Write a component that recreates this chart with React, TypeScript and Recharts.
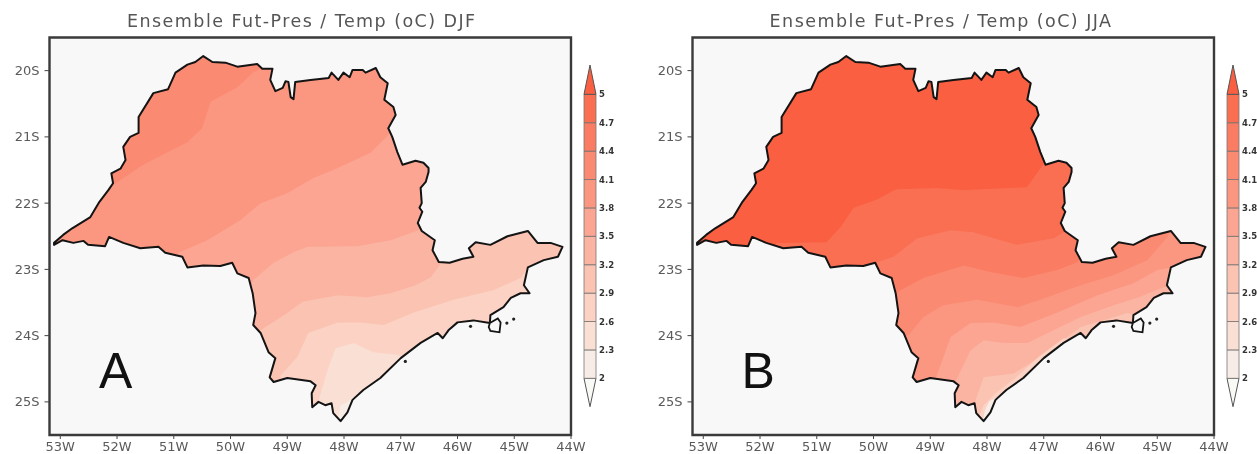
import React from 'react';
import { ScatterChart, Scatter, XAxis, YAxis, ReferenceArea, ReferenceLine } from 'recharts';

type Pair = [number, number];

const LON_TICKS = [-53, -52, -51, -50, -49, -48, -47, -46, -45, -44];
const LAT_TICKS = [-25, -24, -23, -22, -21, -20];
const LEVELS = [2, 2.3, 2.6, 2.9, 3.2, 3.5, 3.8, 4.1, 4.4, 4.7, 5];

// colour for <2, 2-2.3, ... 4.7-5, >5
const PALETTE = ['#f9f9f5', '#f8ede6', '#fadfd4', '#fbd2c3', '#fbc3b2', '#fbb4a2', '#fba592', '#fb9781', '#fb8a73', '#fa7c62', '#fa6e52', '#f95f40'];

const NE: Pair = [-44, -19.5];
const SE: Pair = [-44, -25.5];
const SW: Pair = [-53.19, -25.5];

const STATE_OUTLINE: Pair[] = [
  [-53.11, -22.6], [-52.95, -22.48], [-52.79, -22.38], [-52.47, -22.21], [-52.31, -21.98], [-52.15, -21.8], [-52.07, -21.7],
  [-52.1, -21.55], [-51.94, -21.48], [-51.85, -21.35], [-51.89, -21.15], [-51.77, -21.0], [-51.62, -20.94], [-51.62, -20.7],
  [-51.36, -20.34], [-51.1, -20.28], [-50.97, -20.03], [-50.76, -19.91], [-50.62, -19.87], [-50.48, -19.78], [-50.32, -19.87],
  [-50.09, -19.88], [-49.88, -19.94], [-49.53, -19.9], [-49.44, -19.97], [-49.26, -19.97], [-49.3, -20.14], [-49.21, -20.31],
  [-49.08, -20.26], [-49.03, -20.16], [-48.98, -20.17], [-48.94, -20.4], [-48.89, -20.43], [-48.86, -20.17], [-48.59, -20.14],
  [-48.27, -20.11], [-48.22, -20.03], [-48.1, -20.14], [-48.01, -20.03], [-47.9, -20.1], [-47.85, -19.99], [-47.67, -19.99],
  [-47.62, -20.03], [-47.44, -19.96], [-47.36, -20.1], [-47.23, -20.19], [-47.29, -20.44], [-47.13, -20.55], [-47.09, -20.67],
  [-47.22, -20.87], [-47.15, -21.0], [-47.06, -21.23], [-46.97, -21.42], [-46.74, -21.36], [-46.6, -21.39], [-46.51, -21.47],
  [-46.51, -21.53], [-46.56, -21.68], [-46.65, -21.77], [-46.63, -22.0], [-46.67, -22.07], [-46.62, -22.13], [-46.7, -22.3],
  [-46.63, -22.42], [-46.4, -22.56], [-46.44, -22.71], [-46.33, -22.89], [-46.14, -22.9], [-45.91, -22.84], [-45.72, -22.81],
  [-45.8, -22.68], [-45.68, -22.59], [-45.42, -22.63], [-45.12, -22.5], [-44.76, -22.42], [-44.59, -22.6], [-44.36, -22.6],
  [-44.15, -22.66], [-44.23, -22.81], [-44.48, -22.86], [-44.76, -22.97], [-44.83, -23.24], [-44.73, -23.36], [-44.89, -23.36],
  [-45.06, -23.43], [-45.19, -23.57], [-45.42, -23.69], [-45.43, -23.81], [-45.72, -23.77], [-46.0, -23.8], [-46.16, -23.92],
  [-46.26, -24.04], [-46.35, -23.96], [-46.65, -24.11], [-47.0, -24.34], [-47.36, -24.64], [-47.66, -24.82], [-47.85, -24.97],
  [-47.94, -25.16], [-48.06, -25.29], [-48.19, -25.17], [-48.22, -25.02], [-48.33, -25.05], [-48.45, -25.0], [-48.56, -25.08],
  [-48.57, -24.87], [-48.5, -24.75], [-48.59, -24.69], [-49.0, -24.64], [-49.24, -24.7], [-49.31, -24.63], [-49.21, -24.34],
  [-49.33, -24.25], [-49.47, -23.96], [-49.6, -23.84], [-49.56, -23.66], [-49.61, -23.36], [-49.68, -23.13], [-49.88, -23.06],
  [-49.97, -22.9], [-50.18, -22.95], [-50.48, -22.94], [-50.76, -22.97], [-50.85, -22.81], [-51.15, -22.75], [-51.27, -22.66],
  [-51.59, -22.68], [-51.89, -22.6], [-52.14, -22.51], [-52.21, -22.65], [-52.51, -22.63], [-52.59, -22.57], [-52.77, -22.6],
  [-52.96, -22.56], [-53.11, -22.63],
];

const ISLAND: Pair[] = [[-45.43, -23.81], [-45.29, -23.74], [-45.24, -23.8], [-45.26, -23.95], [-45.42, -23.93], [-45.45, -23.87]];
const ISLETS: Pair[] = [[-46.92, -24.39], [-45.77, -23.86], [-45.13, -23.81], [-45.01, -23.75]];

// DJF temperature contours, warm to cool, each running west to east
const DJF_41: Pair[] = [[-53.19, -22.41], [-52.15, -21.77], [-51.59, -21.45], [-51.47, -21.39], [-50.76, -21.08], [-50.5, -20.87], [-50.35, -20.47], [-49.88, -20.25], [-49.6, -20.03], [-49.47, -19.97], [-49.38, -19.76], NE, SE, SW];
const DJF_38: Pair[] = [[-51.06, -22.89], [-50.92, -22.75], [-50.41, -22.56], [-49.83, -22.26], [-49.47, -22.0], [-49.0, -21.85], [-48.54, -21.62], [-48.19, -21.5], [-47.53, -21.24], [-47.22, -20.97], [-47.0, -20.82], NE, SE, SW];
const DJF_35: Pair[] = [[-49.68, -23.31], [-49.6, -23.16], [-49.24, -22.9], [-48.89, -22.74], [-48.64, -22.66], [-47.76, -22.65], [-47.18, -22.56], [-46.69, -22.41], [-46.44, -22.29], NE, SE, SW];
const DJF_32: Pair[] = [[-49.65, -23.99], [-49.47, -23.92], [-49.0, -23.66], [-48.73, -23.49], [-48.11, -23.39], [-47.59, -23.42], [-47.18, -23.36], [-46.74, -23.24], [-46.47, -23.12], [-46.3, -22.92], [-46.19, -22.74], NE, SE, SW];
const DJF_29: Pair[] = [[-49.12, -24.82], [-49.12, -24.6], [-48.82, -24.32], [-48.63, -23.96], [-48.11, -23.8], [-47.71, -23.8], [-47.3, -23.84], [-46.77, -23.65], [-46.07, -23.46], [-45.36, -23.31], [-44.89, -23.13], [-44.76, -22.98], [-44.62, -22.98], SE, SW];
const DJF_26: Pair[] = [[-48.49, -25.16], [-48.45, -24.99], [-48.41, -24.87], [-48.29, -24.52], [-48.15, -24.19], [-47.83, -24.11], [-47.48, -24.25], [-47.06, -24.29], [-46.95, -24.32], [-46.79, -24.45], SE, SW];
const DJF_23: Pair[] = [[-48.1, -25.25], [-48.06, -25.05], [-47.94, -25.0], [-47.85, -24.93], [-47.74, -24.94], SE, SW];

// JJA temperature contours
const JJA_47: Pair[] = [[-51.8, -22.77], [-51.71, -22.6], [-50.83, -22.59], [-50.58, -22.36], [-50.35, -22.07], [-49.95, -21.95], [-49.6, -21.79], [-48.89, -21.77], [-48.41, -21.8], [-47.3, -21.76], [-47.04, -21.45], [-46.92, -21.27], NE, SE, SW];
const JJA_44: Pair[] = [[-50.04, -23.04], [-49.97, -22.9], [-49.65, -22.81], [-49.23, -22.53], [-48.64, -22.41], [-48.24, -22.44], [-47.48, -22.63], [-46.83, -22.53], [-46.49, -22.36], [-46.37, -22.26], NE, SE, SW];
const JJA_41: Pair[] = [[-49.74, -23.4], [-49.58, -23.34], [-49.12, -23.13], [-48.41, -22.94], [-47.94, -23.04], [-47.36, -23.13], [-46.76, -23.01], [-46.4, -22.89], [-46.26, -22.71], NE, SE, SW];
const JJA_38: Pair[] = [[-49.61, -24.07], [-49.38, -23.99], [-49.12, -23.72], [-48.77, -23.54], [-48.17, -23.46], [-47.46, -23.57], [-47.06, -23.46], [-46.35, -23.24], [-45.77, -23.09], [-45.17, -22.86], [-44.82, -22.51], [-44.71, -22.33], NE, SE, SW];
const JJA_35: Pair[] = [[-48.98, -24.79], [-48.91, -24.66], [-48.64, -24.02], [-48.29, -23.81], [-47.89, -23.8], [-47.41, -23.87], [-46.76, -23.65], [-46.05, -23.39], [-45.42, -23.21], [-45.0, -23.01], [-44.76, -22.97], [-44.6, -22.98], SE, SW];
const JJA_32: Pair[] = [[-48.68, -24.85], [-48.56, -24.7], [-48.29, -24.22], [-48.06, -24.07], [-47.71, -24.11], [-47.29, -24.11], [-46.83, -23.92], [-46.35, -23.72], [-45.77, -23.54], [-45.35, -23.43], [-44.89, -23.27], [-44.68, -23.25], SE, SW];
const JJA_29: Pair[] = [[-48.27, -25.19], [-48.2, -24.97], [-48.06, -24.63], [-47.53, -24.57], [-47.06, -24.32], [-46.35, -23.87], [-45.52, -23.66], [-45.31, -23.71], SE, SW];
const JJA_26: Pair[] = [[-48.16, -25.25], [-48.06, -25.05], [-47.85, -24.87], [-47.5, -24.64], [-47.09, -24.32], [-46.65, -24.04], [-46.47, -24.07], SE, SW];
const JJA_20: Pair[] = [[-48.06, -25.25], [-48.04, -25.13], [-47.96, -24.99], [-47.85, -24.94], [-47.78, -24.97], SE, SW];

const DJF_BANDS: [Pair[], number][] = [[DJF_41, 7], [DJF_38, 6], [DJF_35, 5], [DJF_32, 4], [DJF_29, 3], [DJF_26, 2], [DJF_23, 1]];
const JJA_BANDS: [Pair[], number][] = [[JJA_47, 10], [JJA_44, 9], [JJA_41, 8], [JJA_38, 7], [JJA_35, 6], [JJA_32, 5], [JJA_29, 4], [JJA_26, 3], [JJA_20, 1]];

const toRows = (list: Pair[]) => list.map(([lon, lat]) => ({ lon, lat }));
const noDot = () => <g />;

// closes the joined points of a Scatter into a filled shape
const ring = (attrs: any) => (p: any) => (
  <path d={'M' + p.points.map((q: any) => `${q.x},${q.y}`).join('L') + 'Z'} {...attrs} />
);

const TICK = { fontSize: 13, fill: '#5a5a5a', fontFamily: 'DejaVu Sans' };

const MapPanel = ({ id, left, title, letter, base, bands }: any) => (
  <div style={{ position: 'absolute', left, top: 0, width: 600, height: 454 }}>
    <ScatterChart width={600} height={454} margin={{ top: 37.5, right: 29, bottom: 1, left: 9.5 }}>
      <XAxis type="number" dataKey="lon" domain={[-53.19, -44]} ticks={LON_TICKS} interval={0} height={18}
        tickFormatter={(v) => `${-v}W`} tick={TICK} tickSize={4} tickMargin={3} axisLine={false} stroke="#444" allowDataOverflow />
      <YAxis type="number" dataKey="lat" domain={[-25.5, -19.5]} ticks={LAT_TICKS} interval={0} width={40}
        tickFormatter={(v) => `${-v}S`} tick={TICK} tickSize={5} tickMargin={5} axisLine={false} stroke="#444" allowDataOverflow />
      <ReferenceArea x1={-53.19} x2={-44} y1={-25.5} y2={-19.5} fill="#f8f8f8" fillOpacity={1} stroke="#3a3a3a" strokeWidth={2.4} />
      <Scatter data={toRows(STATE_OUTLINE)} shape={noDot} isAnimationActive={false}
        line={(p: any) => <clipPath id={id}>{ring({})(p)}</clipPath>} />
      <Scatter data={toRows(STATE_OUTLINE)} shape={noDot} isAnimationActive={false} line={ring({ fill: PALETTE[base], stroke: 'none' })} />
      {bands.map(([contour, c]: [Pair[], number], i: number) => (
        <Scatter key={i} data={toRows(contour)} shape={noDot} isAnimationActive={false}
          line={ring({ fill: PALETTE[c], stroke: 'none', clipPath: `url(#${id})` })} />
      ))}
      <Scatter data={toRows(STATE_OUTLINE)} shape={noDot} isAnimationActive={false}
        line={ring({ fill: 'none', stroke: '#141414', strokeWidth: 2, strokeLinejoin: 'round' })} />
      <Scatter data={toRows(ISLAND)} shape={noDot} isAnimationActive={false}
        line={ring({ fill: '#f8f8f8', stroke: '#141414', strokeWidth: 1.8 })} />
      <Scatter data={toRows(ISLETS)} isAnimationActive={false}
        shape={(p: any) => <circle cx={p.cx} cy={p.cy} r={1.6} fill="#222" />} />
    </ScatterChart>
    <div style={{ position: 'absolute', left: 127, top: 11, width: 360, fontFamily: 'DejaVu Sans', fontSize: 17.5, lineHeight: '20px', color: '#555', whiteSpace: 'nowrap', letterSpacing: 1.45 }}>{title}</div>
    <div style={{ position: 'absolute', left: 99, top: 342, fontFamily: 'Liberation Sans', fontSize: 50, lineHeight: '58px', color: '#111' }}>{letter}</div>
  </div>
);

const ColorBar = ({ left }: { left: number }) => (
  <div style={{ position: 'absolute', left, top: 0, width: 60, height: 454 }}>
    <ScatterChart width={60} height={454} margin={{ top: 65, right: 0, bottom: 47.3, left: 14 }}>
      <XAxis type="number" dataKey="x" domain={[0, 1]} hide />
      <YAxis type="number" dataKey="v" orientation="right" domain={[1.7, 5.31]} ticks={LEVELS} interval={0} width={34}
        tick={{ fontSize: 8.5, fill: '#333', fontFamily: 'DejaVu Sans', fontWeight: 700 }} tickLine={false} tickSize={0} tickMargin={3} axisLine={false} />
      <Scatter data={[{ x: 0, v: 2 }, { x: 1, v: 2 }, { x: 0.5, v: 1.7 }]} shape={noDot} isAnimationActive={false}
        line={ring({ fill: PALETTE[0], stroke: '#555', strokeWidth: 1 })} />
      {LEVELS.slice(0, -1).map((lo, i) => (
        <Scatter key={lo} data={[{ x: 0, v: lo }, { x: 1, v: lo }, { x: 1, v: LEVELS[i + 1] }, { x: 0, v: LEVELS[i + 1] }]} shape={noDot} isAnimationActive={false}
          line={ring({ fill: PALETTE[i + 1], stroke: '#777', strokeWidth: 0.8 })} />
      ))}
      <Scatter data={[{ x: 0, v: 5 }, { x: 1, v: 5 }, { x: 0.5, v: 5.31 }]} shape={noDot} isAnimationActive={false}
        line={ring({ fill: PALETTE[11], stroke: '#555', strokeWidth: 1 })} />
      {LEVELS.map((v) => <ReferenceLine key={v} y={v} stroke="#2e2e2e" strokeWidth={1.2} />)}
    </ScatterChart>
  </div>
);

export default function App() {
  return (
    <div style={{ position: 'absolute', left: 0, top: 0, width: 1257, height: 454, overflow: 'hidden', background: '#fff', filter: 'blur(0.7px)' }}>
      <MapPanel id="clipDjf" left={0} title="Ensemble Fut-Pres / Temp (oC) DJF" letter="A" base={8} bands={DJF_BANDS} />
      <ColorBar left={570} />
      <MapPanel id="clipJja" left={642.6} title="Ensemble Fut-Pres / Temp (oC) JJA" letter="B" base={11} bands={JJA_BANDS} />
      <ColorBar left={1212.6} />
    </div>
  );
}
